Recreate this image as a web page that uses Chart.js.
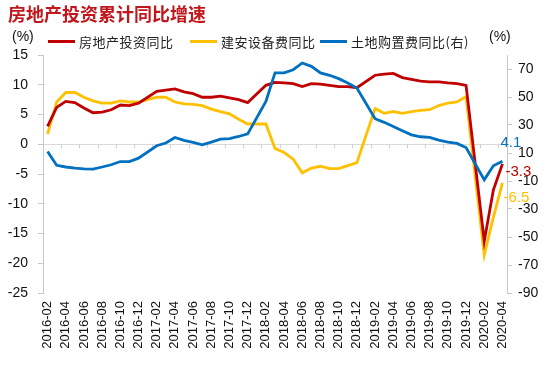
<!DOCTYPE html>
<html>
<head>
<meta charset="utf-8">
<script src="https://cdn.jsdelivr.net/npm/chart.js@4.4.1/dist/chart.umd.min.js"></script>
<style>
html, body { margin: 0; padding: 0; background: #fff; }
</style>
</head>
<body>
<canvas id="canvas" width="550" height="366"></canvas>
<script>
// monthly axis incl. January (no data published for Jan, line spans the gap)
var months = [
    '2016-02', '2016-03', '2016-04', '2016-05', '2016-06', '2016-07', '2016-08', '2016-09', '2016-10', '2016-11', '2016-12',
    '2017-01', '2017-02', '2017-03', '2017-04', '2017-05', '2017-06', '2017-07', '2017-08', '2017-09', '2017-10', '2017-11', '2017-12',
    '2018-01', '2018-02', '2018-03', '2018-04', '2018-05', '2018-06', '2018-07', '2018-08', '2018-09', '2018-10', '2018-11', '2018-12',
    '2019-01', '2019-02', '2019-03', '2019-04', '2019-05', '2019-06', '2019-07', '2019-08', '2019-09', '2019-10', '2019-11', '2019-12',
    '2020-01', '2020-02', '2020-03', '2020-04'
];

var investYoY = [
    3.0, 6.2, 7.2, 7.0, 6.1, 5.3, 5.4, 5.8, 6.6, 6.5, 6.9,
    null, 8.9, 9.1, 9.3, 8.8, 8.5, 7.9, 7.9, 8.1, 7.8, 7.5, 7.0,
    null, 9.9, 10.4, 10.3, 10.2, 9.7, 10.2, 10.1, 9.9, 9.7, 9.7, 9.5,
    null, 11.6, 11.8, 11.9, 11.2, 10.9, 10.6, 10.5, 10.5, 10.3, 10.2, 9.9,
    null, -16.3, -7.7, -3.3
];

var buildYoY = [
    1.7, 7.1, 8.7, 8.7, 7.9, 7.3, 6.9, 6.9, 7.3, 7.1, 7.1,
    null, 7.9, 7.9, 7.1, 6.8, 6.7, 6.5, 5.9, 5.5, 5.1, 4.2, 3.4,
    null, 3.4, -0.7, -1.4, -2.5, -4.8, -4.0, -3.7, -4.1, -4.1, -3.6, -3.1,
    null, 6.0, 5.2, 5.5, 5.2, 5.5, 5.7, 5.8, 6.5, 6.9, 7.1, 8.0,
    null, -18.6, -12.3, -6.5
];

var landYoY = [
    11.1, 1.2, 0.0, -0.8, -1.3, -1.5, 0.0, 1.6, 3.9, 3.9, 6.3,
    null, 15.2, 17.1, 21.1, 19.0, 17.6, 15.9, 17.8, 19.9, 20.2, 21.8, 23.7,
    null, 46.9, 67.2, 67.2, 69.5, 74.3, 71.9, 67.2, 65.5, 63.1, 60.0, 56.4,
    null, 34.5, 31.9, 29.0, 25.9, 23.0, 21.6, 21.1, 19.2, 17.8, 16.8, 13.9,
    null, -9.2, 0.9, 4.1
];

var leftTicks = [-25, -20, -15, -10, -5, 0, 5, 10, 15];
var rightTicks = [-90, -70, -50, -30, -10, 10, 30, 50, 70];

var RED = '#C00000';
var YELLOW = '#FFC000';
var BLUE = '#0070C0';
var numFont = '"Liberation Sans", Arial, sans-serif';
var cjkFont = '"Noto Sans CJK SC", sans-serif';

// title, units and legend above the plot
var header = {
    id: 'header',
    afterDraw: function (chart) {
        var ctx = chart.ctx;
        ctx.save();
        ctx.textBaseline = 'middle';
        ctx.fillStyle = '#C0161C';
        ctx.font = 'bold 18px ' + cjkFont;
        ctx.textAlign = 'left';
        ctx.fillText('房地产投资累计同比增速', 8, 14);

        ctx.fillStyle = '#111';
        ctx.font = '14px ' + numFont;
        ctx.fillText('(%)', 12, 37);
        ctx.fillText('(%)', 489, 37);

        var starts = [48, 190, 320];
        chart.data.datasets.forEach(function (ds, i) {
            var x = starts[i];
            ctx.strokeStyle = ds.borderColor;
            ctx.lineWidth = 3;
            ctx.beginPath();
            ctx.moveTo(x, 41.5);
            ctx.lineTo(x + 27, 41.5);
            ctx.stroke();
            ctx.fillStyle = '#222';
            ctx.font = '13px ' + cjkFont;
            ctx.letterSpacing = '0.5px';
            ctx.fillText(ds.label, x + 31, 42);
        });
        ctx.restore();
    }
};

// small tick marks hanging from the zero line
var zeroTicks = {
    id: 'zeroTicks',
    beforeDatasetsDraw: function (chart) {
        var xs = chart.scales.x, ys = chart.scales.y, ctx = chart.ctx;
        var y0 = ys.getPixelForValue(0);
        ctx.save();
        ctx.strokeStyle = '#d0d0d0';
        ctx.lineWidth = 1;
        ctx.beginPath();
        for (var i = 1; i < months.length - 1; i += 2) {
            var px = Math.round((xs.getPixelForValue(i) + xs.getPixelForValue(i + 1)) / 2) + 0.5;
            ctx.moveTo(px, y0);
            ctx.lineTo(px, y0 + 4);
        }
        ctx.stroke();
        ctx.restore();
    }
};

// value label next to the last point of each series
var endLabels = {
    id: 'endLabels',
    afterDatasetsDraw: function (chart) {
        var ctx = chart.ctx;
        var offsets = [[3, 8], [1, 15], [-2, -18]];
        ctx.save();
        ctx.font = '15px ' + numFont;
        ctx.textAlign = 'left';
        ctx.textBaseline = 'middle';
        chart.data.datasets.forEach(function (ds, i) {
            var meta = chart.getDatasetMeta(i);
            var last = ds.data.length - 1;
            var pt = meta.data[last];
            ctx.fillStyle = ds.borderColor;
            ctx.fillText(ds.data[last].toFixed(1), pt.x + offsets[i][0], pt.y + offsets[i][1]);
        });
        ctx.restore();
    }
};

window.onload = function () {
    var ctx = document.getElementById('canvas').getContext('2d');
    window.myLine = new Chart(ctx, {
        type: 'line',
        data: {
            labels: months,
            datasets: [{
                label: '房地产投资同比',
                data: investYoY,
                borderColor: RED,
                backgroundColor: RED,
                yAxisID: 'y',
                order: 2
            }, {
                label: '建安设备费同比',
                data: buildYoY,
                borderColor: YELLOW,
                backgroundColor: YELLOW,
                yAxisID: 'y',
                order: 3
            }, {
                label: '土地购置费同比(右)',
                data: landYoY,
                borderColor: BLUE,
                backgroundColor: BLUE,
                yAxisID: 'y1',
                order: 1
            }]
        },
        options: {
            responsive: false,
            animation: false,
            devicePixelRatio: 1,
            spanGaps: true,
            elements: {
                line: { borderWidth: 2.8, tension: 0, fill: false },
                point: { radius: 0, hoverRadius: 0 }
            },
            layout: { padding: { top: 55, left: 0, right: 0, bottom: 0 } },
            plugins: {
                legend: { display: false },
                title: { display: false },
                tooltip: { enabled: false }
            },
            scales: {
                x: {
                    type: 'category',
                    offset: true,
                    grid: { display: false, drawTicks: false },
                    border: { display: false },
                    ticks: {
                        autoSkip: false,
                        minRotation: 90,
                        maxRotation: 90,
                        padding: 8,
                        color: '#111',
                        font: { family: numFont, size: 13 },
                        callback: function (value, index) {
                            return index % 2 === 0 ? this.getLabelForValue(value) : '';
                        }
                    },
                    afterFit: function (scale) { scale.height = 73; }
                },
                y: {
                    position: 'left',
                    min: -25,
                    max: 15,
                    afterBuildTicks: function (scale) {
                        scale.ticks = leftTicks.map(function (v) { return { value: v }; });
                    },
                    grid: {
                        color: function (c) { return c.tick && c.tick.value === 0 ? '#d9d9d9' : 'rgba(0,0,0,0)'; },
                        tickColor: '#c8c8c8',
                        tickLength: 5
                    },
                    border: { display: true, color: '#c8c8c8' },
                    ticks: {
                        padding: 10,
                        color: '#111',
                        font: { family: numFont, size: 14 }
                    },
                    afterFit: function (scale) { scale.width = 43; }
                },
                y1: {
                    position: 'right',
                    min: -90,
                    max: 80,
                    afterBuildTicks: function (scale) {
                        scale.ticks = rightTicks.map(function (v) { return { value: v }; });
                    },
                    grid: {
                        drawOnChartArea: false,
                        tickColor: '#c8c8c8',
                        tickLength: 5
                    },
                    border: { display: true, color: '#c8c8c8' },
                    ticks: {
                        padding: 6,
                        color: '#111',
                        font: { family: numFont, size: 14 }
                    },
                    afterFit: function (scale) { scale.width = 43; }
                }
            }
        },
        plugins: [zeroTicks, endLabels, header]
    });
};
</script>
</body>
</html>
